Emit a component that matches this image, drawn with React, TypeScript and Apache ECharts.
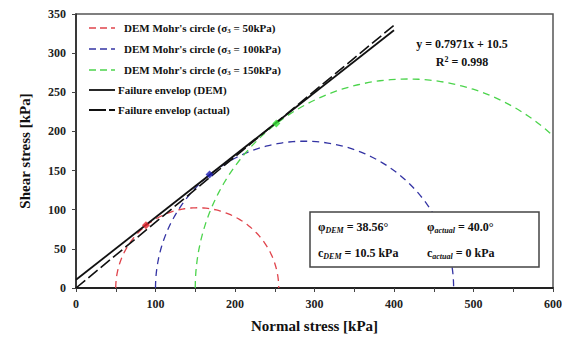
import React, { useEffect, useRef } from "react";
import * as echarts from "echarts";

// Mohr's circles: confining stress (sigma3) and major principal stress (sigma1), kPa
const SIGMA3 = [50, 100, 150];
const SIGMA1 = [255, 475, 684];
const CIRCLE_NAMES = [
  "DEM Mohr's circle (σ3 = 50kPa)",
  "DEM Mohr's circle (σ3 = 100kPa)",
  "DEM Mohr's circle (σ3 = 150kPa)",
];
const CIRCLE_COLORS = ["#e0444c", "#3434a4", "#4cd44c"];

// points where each circle touches the DEM envelope [normal, shear]
const TANGENT_POINTS = [
  [88, 80],
  [168, 145],
  [252, 210],
];
const TANGENT_COLORS = ["#e3222a", "#1c1cb4", "#30e030"];

// envelopes
const DEM_SLOPE = 0.7971;
const DEM_INTERCEPT = 10.5;
const DEM_R2 = 0.998;
const PHI_DEM = 38.56;
const PHI_ACTUAL = 40.0;
const C_ACTUAL = 0;
const ENVELOPE_X = [0, 400];

const X_TICKS = [0, 100, 200, 300, 400, 500, 600];
const Y_TICKS = [0, 50, 100, 150, 200, 250, 300, 350];

const FONT = "'Liberation Serif', 'Times New Roman', serif";

export default function App() {
  const ref = useRef<HTMLDivElement>(null);

  useEffect(() => {
    if (!ref.current) return;
    const chart = echarts.init(ref.current, null, { renderer: "svg" });

    const demLine = ENVELOPE_X.map((x) => [x, DEM_SLOPE * x + DEM_INTERCEPT]);
    const tanActual = Math.tan((PHI_ACTUAL * Math.PI) / 180);
    const actualLine = ENVELOPE_X.map((x) => [x, tanActual * x]);

    const circleSeries = SIGMA3.map((s3, i) => ({
      type: "custom",
      name: CIRCLE_NAMES[i],
      clip: true,
      silent: true,
      z: 2,
      data: [[s3, SIGMA1[i]]],
      renderItem: (_params: any, api: any) => {
        const lo = api.value(0);
        const hi = api.value(1);
        const c = (lo + hi) / 2;
        const r = (hi - lo) / 2;
        const pts: number[][] = [];
        for (let a = 180; a >= 0; a -= 1.5) {
          const t = (a * Math.PI) / 180;
          pts.push(api.coord([c + r * Math.cos(t), r * Math.sin(t)]));
        }
        return {
          type: "polyline",
          shape: { points: pts },
          style: {
            fill: "none",
            stroke: CIRCLE_COLORS[i],
            lineWidth: 1.3,
            lineDash: [7, 5],
          },
        };
      },
    }));

    const legendRows = [
      { y: 28, kind: "circle", color: CIRCLE_COLORS[0], text: CIRCLE_NAMES[0] },
      { y: 49, kind: "circle", color: CIRCLE_COLORS[1], text: CIRCLE_NAMES[1] },
      { y: 70, kind: "circle", color: CIRCLE_COLORS[2], text: CIRCLE_NAMES[2] },
      { y: 90, kind: "solid", color: "#111", text: "Failure envelop (DEM)" },
      { y: 110, kind: "dash", color: "#111", text: "Failure envelop (actual)" },
    ];

    const legendGraphics: any[] = [];
    legendRows.forEach((row) => {
      const dash =
        row.kind === "circle" ? [7, 4] : row.kind === "dash" ? [17, 3] : undefined;
      legendGraphics.push({
        type: "line",
        shape: { x1: 89, y1: row.y, x2: 115, y2: row.y },
        style: {
          stroke: row.color,
          lineWidth: row.kind === "circle" ? 1.3 : 1.8,
          lineDash: dash,
        },
        z: 10,
      });
      const parts = row.text.split("σ3");
      legendGraphics.push({
        type: "text",
        x: row.kind === "circle" ? 124 : 118,
        y: row.y,
        style: {
          text:
            parts.length > 1 ? `${parts[0]}σ{sub|3}${parts[1]}` : row.text,
          font: `bold 11px ${FONT}`,
          fill: "#111",
          verticalAlign: "middle",
          rich: {
            sub: { font: `bold 7px ${FONT}`, fill: "#111", padding: [6, 0, 0, 0] },
          },
        },
        z: 10,
      });
    });

    const boxRich = {
      sub: { font: `italic bold 8px ${FONT}`, fill: "#111", padding: [6, 0, 0, 0] },
    };

    chart.setOption({
      animation: false,
      backgroundColor: "#fff",
      grid: {
        left: 76,
        right: 17,
        top: 14,
        bottom: 54,
        show: true,
        borderColor: "#555",
        borderWidth: 1.5,
        backgroundColor: "transparent",
      },
      xAxis: {
        type: "value",
        min: X_TICKS[0],
        max: X_TICKS[X_TICKS.length - 1],
        interval: 100,
        name: "Normal stress [kPa]",
        nameLocation: "middle",
        nameGap: 30,
        nameTextStyle: { fontFamily: FONT, fontWeight: "bold", fontSize: 15, color: "#111" },
        axisLine: { show: true, lineStyle: { color: "#222", width: 2 } },
        axisTick: { show: true, inside: false, length: 4, lineStyle: { color: "#444" } },
        minorTick: { show: true, splitNumber: 2, length: 4, lineStyle: { color: "#444" } },
        axisLabel: { fontFamily: FONT, fontWeight: "bold", fontSize: 12, color: "#222", margin: 10 },
        splitLine: { show: false },
      },
      yAxis: {
        type: "value",
        min: Y_TICKS[0],
        max: Y_TICKS[Y_TICKS.length - 1],
        interval: 50,
        name: "Shear stress [kPa]",
        nameLocation: "middle",
        nameGap: 44,
        nameTextStyle: { fontFamily: FONT, fontWeight: "bold", fontSize: 15, color: "#111" },
        axisLine: { show: true, lineStyle: { color: "#222", width: 1.5 } },
        axisTick: { show: true, length: 4, lineStyle: { color: "#444" } },
        axisLabel: { fontFamily: FONT, fontWeight: "bold", fontSize: 12, color: "#222", margin: 10 },
        splitLine: { show: false },
      },
      series: [
        ...circleSeries,
        {
          type: "line",
          name: "Failure envelop (DEM)",
          data: demLine,
          showSymbol: false,
          silent: true,
          z: 4,
          lineStyle: { color: "#111", width: 1.8 },
        },
        {
          type: "line",
          name: "Failure envelop (actual)",
          data: actualLine,
          showSymbol: false,
          silent: true,
          z: 4,
          lineStyle: { color: "#111", width: 1.6, type: [12, 4] },
        },
        {
          type: "scatter",
          name: "tangent",
          z: 5,
          silent: true,
          symbol: "diamond",
          symbolSize: 8,
          data: TANGENT_POINTS.map((p, i) => ({
            value: p,
            itemStyle: { color: TANGENT_COLORS[i] },
          })),
        },
      ],
      graphic: [
        ...legendGraphics,
        {
          type: "text",
          x: 462,
          y: 44,
          style: {
            text: `y = ${DEM_SLOPE}x + ${DEM_INTERCEPT}`,
            font: `bold 12px ${FONT}`,
            fill: "#111",
            align: "center",
            verticalAlign: "middle",
          },
          z: 10,
        },
        {
          type: "text",
          x: 462,
          y: 62,
          style: {
            text: `R{sup|2} = ${DEM_R2}`,
            font: `bold 12px ${FONT}`,
            fill: "#111",
            align: "center",
            verticalAlign: "middle",
            rich: { sup: { font: `bold 8px ${FONT}`, fill: "#111", padding: [0, 0, 6, 0] } },
          },
          z: 10,
        },
        {
          type: "rect",
          shape: { x: 310, y: 212, width: 229, height: 55 },
          style: { fill: "#fff", stroke: "#444", lineWidth: 1.5 },
          z: 20,
        },
        {
          type: "text",
          x: 318,
          y: 227,
          style: {
            text: `φ{sub|DEM} = ${PHI_DEM}°`,
            font: `bold 12px ${FONT}`,
            fill: "#111",
            verticalAlign: "middle",
            rich: boxRich,
          },
          z: 21,
        },
        {
          type: "text",
          x: 427,
          y: 227,
          style: {
            text: `φ{sub|actual} = ${PHI_ACTUAL.toFixed(1)}°`,
            font: `bold 12px ${FONT}`,
            fill: "#111",
            verticalAlign: "middle",
            rich: boxRich,
          },
          z: 21,
        },
        {
          type: "text",
          x: 318,
          y: 253,
          style: {
            text: `c{sub|DEM} = ${DEM_INTERCEPT} kPa`,
            font: `bold 12px ${FONT}`,
            fill: "#111",
            verticalAlign: "middle",
            rich: boxRich,
          },
          z: 21,
        },
        {
          type: "text",
          x: 427,
          y: 253,
          style: {
            text: `c{sub|actual} = ${C_ACTUAL} kPa`,
            font: `bold 12px ${FONT}`,
            fill: "#111",
            verticalAlign: "middle",
            rich: boxRich,
          },
          z: 21,
        },
      ],
    });

    return () => chart.dispose();
  }, []);

  return <div ref={ref} style={{ width: 570, height: 342, margin: -8 }} />;
}
